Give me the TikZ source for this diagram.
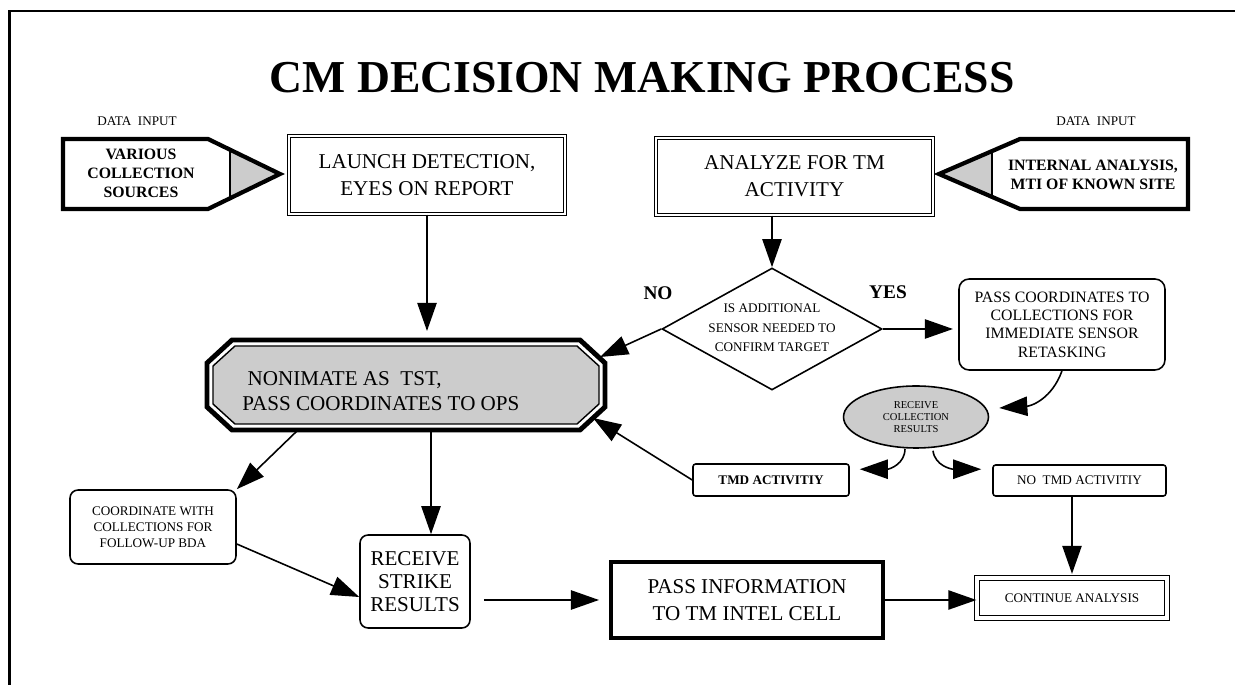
\documentclass[tikz,border=0pt]{standalone}
\usepackage{fontspec}
\setmainfont{Liberation Serif}
\usetikzlibrary{arrows.meta,shapes.geometric,calc}
\definecolor{lg}{gray}{0.8}
\newcommand{\bigtxt}{\fontsize{12}{15.3}\selectfont}
\newcommand{\smalltxt}{\fontsize{7.5}{9}\selectfont}
\begin{document}
\begin{tikzpicture}[x=0.02cm,y=-0.02cm,
  arr/.style={line width=0.9pt,-{Triangle[length=16pt,width=11pt]}},
  box/.style={draw,line width=0.9pt,align=center,inner sep=0pt},
  dbox/.style={box,double,double distance=1.4pt,line width=0.7pt},
  src/.style={font=\fontsize{9}{10.8}\selectfont\bfseries,align=center,inner sep=0pt},
  lbl/.style={font=\fontsize{11}{13}\selectfont\bfseries,inner sep=0pt}
]
\useasboundingbox (0,0) rectangle (1235,685);
\draw[line width=1.2pt] (9.5,685) -- (9.5,11) -- (1235,11);

\node[font=\fontsize{26}{30}\selectfont\bfseries,inner sep=0pt] (title) at (642,78) {CM DECISION MAKING PROCESS};

\node[font=\smalltxt,inner sep=0pt] (di1) at (137,121) {DATA\ \ INPUT};
\node[font=\smalltxt,inner sep=0pt] (di2) at (1096,121) {DATA\ \ INPUT};

% left input pentagon
\fill[lg] (230,150) -- (280,174) -- (230,198) -- cycle;
\draw[line width=0.8pt] (230,150) -- (230,198);
\draw[line width=2.4pt] (63,139) -- (208,139) -- (280,174) -- (208,209) -- (63,209) -- cycle;
\node[src] (src1) at (141,173) {VARIOUS\\COLLECTION\\SOURCES};

% right input pentagon
\fill[lg] (992,151) -- (939,174) -- (992,197) -- cycle;
\draw[line width=0.8pt] (992,151) -- (992,197);
\draw[line width=2.4pt] (1188,139) -- (1020,139) -- (939,174) -- (1020,209) -- (1188,209) -- cycle;
\node[src] (src2) at (1093,175) {INTERNAL ANALYSIS,\\MTI OF KNOWN SITE};

\node[dbox,minimum width=5.52cm,minimum height=1.56cm,font=\bigtxt] (launch) at (427,175) {LAUNCH DETECTION,\\EYES ON REPORT};
\node[dbox,minimum width=5.54cm,minimum height=1.54cm,font=\bigtxt] (analyze) at (794.5,176.5) {ANALYZE FOR TM\\ACTIVITY};

% octagon
\filldraw[fill=white,draw=black,line width=2.8pt] (232,340) -- (580,340) -- (605,363) -- (605,407) -- (580,430) -- (232,430) -- (207,407) -- (207,363) -- cycle;
\filldraw[fill=lg,draw=black,line width=0.8pt] (235,346) -- (577,346) -- (599,366) -- (599,404) -- (577,424) -- (235,424) -- (213,404) -- (213,366) -- cycle;
\node[font=\fontsize{12}{14}\selectfont,align=left,anchor=west,inner sep=0pt] (oct) at (242,391) {\ NONIMATE AS\ \ TST,\\PASS COORDINATES TO OPS};
\coordinate (octN) at (427,331);
\coordinate (octNE) at (600,357);
\coordinate (octSE) at (593,418);
\coordinate (octSW) at (298,430);
\coordinate (octS) at (431,430);

% decision
\node[draw,diamond,line width=0.9pt,minimum width=4.4cm,minimum height=2.44cm,inner sep=0pt] (dia) at (772,329) {};
\node[font=\fontsize{7.5}{11}\selectfont,align=center,inner sep=0pt] (diat) at (772,328) {IS ADDITIONAL\\SENSOR NEEDED TO\\CONFIRM TARGET};
\node[lbl] (no) at (658,293) {NO};
\node[lbl] (yes) at (888,292) {YES};

\node[box,rounded corners=0.2cm,minimum width=4.12cm,minimum height=1.82cm,font=\fontsize{9}{10.4}\selectfont] (pass) at (1062,324.5) {PASS COORDINATES TO\\COLLECTIONS FOR\\IMMEDIATE SENSOR\\RETASKING};

\node[draw,ellipse,fill=lg,line width=0.9pt,minimum width=2.9cm,minimum height=1.24cm,inner sep=0pt,font=\fontsize{6}{7}\selectfont,align=center] (ell) at (916,417) {RECEIVE\\COLLECTION\\RESULTS};

\node[box,rounded corners=1.5pt,minimum width=3.12cm,minimum height=0.64cm,font=\smalltxt\bfseries] (tmd) at (771,480) {TMD ACTIVITIY};
\node[box,rounded corners=1.5pt,minimum width=3.46cm,minimum height=0.62cm,font=\smalltxt] (notmd) at (1079.5,480.5) {NO\ \ TMD ACTIVITIY};

\node[dbox,double distance=2pt,minimum width=3.8cm,minimum height=0.8cm,font=\smalltxt] (cont) at (1072,598) {CONTINUE ANALYSIS};
\node[box,line width=2.3pt,minimum width=5.44cm,minimum height=1.52cm,font=\bigtxt] (passinfo) at (747,600) {PASS INFORMATION\\TO TM INTEL CELL};

\node[box,rounded corners=0.16cm,minimum width=3.32cm,minimum height=1.48cm,font=\smalltxt] (coord) at (153,527) {COORDINATE WITH\\COLLECTIONS FOR\\FOLLOW-UP BDA};
\node[box,rounded corners=0.16cm,minimum width=2.2cm,minimum height=1.86cm,font=\fontsize{12}{13}\selectfont] (strike) at (415,581.5) {RECEIVE\\STRIKE\\RESULTS};

% connectors
\draw[arr] (launch.south) -- (octN);
\draw[arr] (analyze.south -| dia.north) -- (dia.north);
\draw[arr] (dia.west) -- (octNE);
\draw[arr,shorten >=3pt] (dia.east) -- (dia.east -| pass.west);
\draw[arr] (pass.south) .. controls +(-10,28) and +(32,-2) .. ($(ell.east)+(10,-9)$);
\draw[arr] ($(ell.south)+(-11,0)$) .. controls +(0,15) and +(30,0) .. ($(tmd.north east)+(10,6)$);
\draw[arr] ($(ell.south)+(17,2)$) .. controls +(2,15) and +(-30,0) .. ($(notmd.north west)+(-11,5)$);
\draw[arr] (tmd.west) -- (octSE);
\draw[arr,shorten >=2pt] (notmd.south -| cont.north) -- (cont.north);
\draw[arr] (passinfo.east) -- (passinfo.east -| cont.west);
\draw[arr] (octSW) -- (coord.north east);
\draw[arr] (octS) -- (octS |- strike.north);
\draw[arr] ($(coord.east)+(0,17)$) -- ($(strike.west)+(0,15.5)$);
\draw[arr,shorten <=0.26cm,shorten >=0.2cm] (strike.east |- passinfo.west) -- (passinfo.west);
\end{tikzpicture}
\end{document}
